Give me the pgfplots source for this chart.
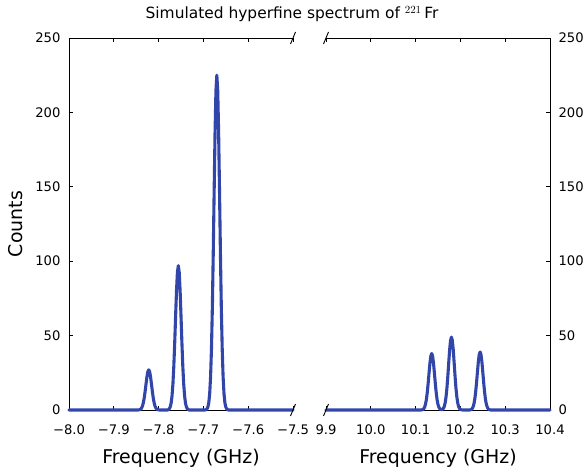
\documentclass[border=0pt]{standalone}
\usepackage{pgfplots}
\pgfplotsset{compat=1.18}
\usepackage{fontspec}
\setmainfont{DejaVu Sans}
\definecolor{specblue}{RGB}{50,70,170}
\begin{document}
\begin{tikzpicture}
\useasboundingbox (-69bp,-65bp) rectangle (517bp,410bp);
\pgfplotsset{
  common/.style={
    scale only axis, width=224bp, height=372bp,
    ymin=0, ymax=250, ytick={0,50,100,150,200,250},
    axis x line*=box,
    tick align=inside,
    major tick length=4.5bp,
    tick style={black, line width=0.8bp},
    axis line style={line width=0.9bp},
    tick label style={font=\fontsize{13.2}{16}\selectfont},
    xticklabel style={yshift=-11bp},
    /pgf/number format/assume math mode=true,
    clip=false,
    xlabel={Frequency (GHz)},
    every axis x label/.style={at={(axis description cs:0.5,0)}, yshift=-48bp, anchor=center, font=\fontsize{19}{22}\selectfont},
    every axis y label/.style={at={(axis description cs:0,0.5)}, xshift=-53bp, rotate=90, anchor=center, font=\fontsize{19}{22}\selectfont},
  },
  spec/.style={specblue, line width=3.1bp, line join=round, line cap=round, no markers},
}
\begin{axis}[common, at={(0,0)}, anchor=south west,
  axis y line*=left,
  yticklabel style={xshift=-5bp},
  xmin=-8.0, xmax=-7.5,
  xtick={-8.0,-7.9,-7.8,-7.7,-7.6,-7.5},
  xticklabels={−8.0,−7.9,−7.8,−7.7,−7.6,−7.5},
  ylabel={Counts}]
\addplot[spec] coordinates {
(-8.0,0) (-7.846,0)
(-7.844,0.09) (-7.842,0.24) (-7.840,0.58) (-7.838,1.30) (-7.836,2.65) (-7.834,4.91)
(-7.832,8.27) (-7.830,12.66) (-7.828,17.63) (-7.826,22.34) (-7.824,25.75) (-7.822,27)
(-7.820,25.75) (-7.818,22.34) (-7.816,17.63) (-7.814,12.66) (-7.812,8.27) (-7.810,4.91)
(-7.808,2.65) (-7.806,1.30) (-7.804,0.58) (-7.802,0.24) (-7.800,0.09) (-7.798,0)
(-7.780,0) (-7.778,0.32) (-7.776,0.85) (-7.774,2.10) (-7.772,4.69) (-7.770,9.54)
(-7.768,17.64) (-7.766,29.70) (-7.764,45.48) (-7.762,63.35) (-7.760,80.27) (-7.758,92.52)
(-7.756,97) (-7.754,92.52) (-7.752,80.27) (-7.750,63.35) (-7.748,45.48) (-7.746,29.70)
(-7.744,17.64) (-7.742,9.54) (-7.740,4.69) (-7.738,2.10) (-7.736,0.85) (-7.734,0.32) (-7.732,0)
(-7.696,0) (-7.694,0.25) (-7.692,0.74) (-7.690,1.98) (-7.688,4.86) (-7.686,10.87)
(-7.684,22.12) (-7.682,40.93) (-7.680,68.90) (-7.678,105.50) (-7.676,146.95) (-7.674,186.19)
(-7.672,214.61) (-7.670,225) (-7.668,214.61) (-7.666,186.19) (-7.664,146.95) (-7.662,105.50)
(-7.660,68.90) (-7.658,40.93) (-7.656,22.12) (-7.654,10.87) (-7.652,4.86) (-7.650,1.98)
(-7.648,0.74) (-7.646,0.25) (-7.644,0) (-7.5,0)
};
\draw[line width=0.9bp] (rel axis cs:1,1) ++(-2.5bp,-6bp) -- ++(5bp,12bp);
\draw[line width=0.9bp] (rel axis cs:1,0) ++(-2.5bp,-6bp) -- ++(5bp,12bp);
\end{axis}
\begin{axis}[common, at={(257bp,0)}, anchor=south west,
  axis y line*=right,
  yticklabel style={xshift=5bp},
  xmin=9.9, xmax=10.4,
  xtick={9.9,10.0,10.1,10.2,10.3,10.4},
  xticklabels={9.9,10.0,10.1,10.2,10.3,10.4}]
\addplot[spec] coordinates {
(9.9,0) (10.112,0)
(10.114,0.13) (10.116,0.33) (10.118,0.82) (10.120,1.84) (10.122,3.74) (10.124,6.91)
(10.126,11.64) (10.128,17.82) (10.130,24.82) (10.132,31.45) (10.134,36.24) (10.136,38)
(10.138,36.24) (10.140,31.45) (10.142,24.82) (10.144,17.82) (10.146,11.64) (10.148,6.91)
(10.150,3.74) (10.152,1.84) (10.154,0.82) (10.156,0.38) (10.158,0.29) (10.160,0.47)
(10.162,1.06) (10.164,2.37) (10.166,4.82) (10.168,8.91) (10.170,15.00) (10.172,22.98)
(10.174,32.00) (10.176,40.55) (10.178,46.74) (10.180,49) (10.182,46.74) (10.184,40.55)
(10.186,32.00) (10.188,22.98) (10.190,15.00) (10.192,8.91) (10.194,4.82) (10.196,2.37)
(10.198,1.06) (10.200,0.43) (10.202,0.16) (10.204,0.05) (10.206,0)
(10.220,0) (10.222,0.13) (10.224,0.34) (10.226,0.84) (10.228,1.88) (10.230,3.83)
(10.232,7.09) (10.234,11.94) (10.236,18.29) (10.238,25.47) (10.240,32.27) (10.242,37.20)
(10.244,39) (10.246,37.20) (10.248,32.27) (10.250,25.47) (10.252,18.29) (10.254,11.94)
(10.256,7.09) (10.258,3.83) (10.260,1.88) (10.262,0.84) (10.264,0.34) (10.266,0.13)
(10.268,0) (10.4,0)
};
\draw[line width=0.9bp] (rel axis cs:0,1) ++(-2.5bp,-6bp) -- ++(5bp,12bp);
\draw[line width=0.9bp] (rel axis cs:0,0) ++(-2.5bp,-6bp) -- ++(5bp,12bp);
\end{axis}
\node[font=\fontsize{15.5}{18}\selectfont] at (223bp,396bp) {Simulated hyperfine spectrum of $^{221}$\,Fr};
\end{tikzpicture}
\end{document}
